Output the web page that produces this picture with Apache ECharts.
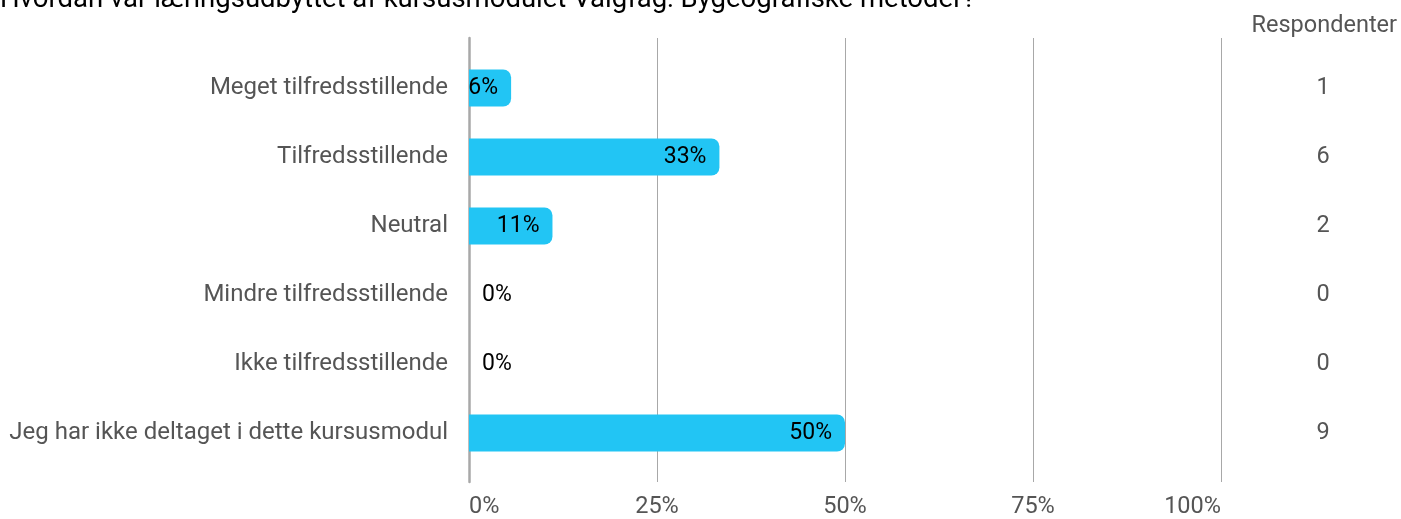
<!DOCTYPE html>
<html><head><meta charset="utf-8">
<script src="https://cdn.jsdelivr.net/npm/echarts@6/dist/echarts.min.js"></script>
<style>html,body{margin:0;padding:0;background:#fff}#c{width:1401px;height:519px}</style>
</head><body><div id="c"></div>
<script>
const titleText = 'Hvordan var læringsudbyttet af kursusmodulet Valgfag: Bygeografiske metoder?';
const countHeader = 'Respondenter';
const categories = ['Meget tilfredsstillende','Tilfredsstillende','Neutral','Mindre tilfredsstillende','Ikke tilfredsstillende','Jeg har ikke deltaget i dette kursusmodul'];
const percentValues = [5.6, 33.3, 11.1, 0, 0, 50];
const respondentCounts = [1, 6, 2, 0, 0, 9];
const xTicks = [0, 25, 50, 75, 100];

const chart = echarts.init(document.getElementById('c'), null, {renderer:'canvas'});
const font = 'Roboto';
const fs = 23.5;
chart.setOption({
  animation:false,
  textStyle:{fontFamily:font},
  title:[
    {text:titleText, left:0, top:-14, padding:0, textStyle:{fontFamily:font, fontSize:27.5, fontWeight:'normal', color:'#000'}},
    {text:countHeader, right:4, top:14, padding:0, textStyle:{fontFamily:font, fontSize:fs, fontWeight:'normal', color:'#555'}}
  ],
  grid:[
    {left:469, right:180, top:53.5, height:414, containLabel:false},
    {left:469, right:180, top:38, bottom:37, containLabel:false}
  ],
  xAxis:[
    {gridIndex:0, type:'value', min:0, max:100, show:false},
    {gridIndex:1, type:'value', min:xTicks[0], max:xTicks[xTicks.length-1], interval:25,
     axisLine:{show:false}, axisTick:{show:false},
     splitLine:{show:true, lineStyle:{color:'#a8a8a8', width:1}},
     axisLabel:{show:true, formatter:v=>v+'%', fontSize:fs, color:'#555', margin:13, fontFamily:font,
       alignMinLabel:'left', alignMaxLabel:'right'}}
  ],
  yAxis:[
    {gridIndex:0, type:'category', data:categories, inverse:true,
     axisLine:{show:false}, axisTick:{show:false}, splitLine:{show:false},
     axisLabel:{fontSize:24, color:'#555', margin:21, fontFamily:font, lineHeight:28, padding:[8,0,0,0]}},
    {gridIndex:0, type:'category', data:respondentCounts.map(String), inverse:true, position:'right',
     axisLine:{show:false}, axisTick:{show:false}, splitLine:{show:false},
     axisLabel:{fontSize:fs, color:'#555', margin:102, align:'center', fontFamily:font, lineHeight:28, padding:[8,0,0,0]}},
    {gridIndex:1, type:'value', min:0, max:1, axisLabel:{show:false}, splitLine:{show:false}, axisTick:{show:false},
     axisLine:{show:true, lineStyle:{color:'#a8a8a8', width:2.5}}}
  ],
  series:[{
    type:'bar', xAxisIndex:0, yAxisIndex:0, barWidth:37,
    itemStyle:{color:'#22c5f4', borderRadius:[0,8,8,0]},
    data: percentValues.map(v=>({value:v,
      label:{show:true, position: v>0?'insideRight':'right', distance:13, lineHeight:28, padding:[6,0,0,0],
        formatter: p=>Math.round(p.value)+'%', fontSize:23, color:'#000', fontFamily:font}}))
  }]
});
</script></body></html>
